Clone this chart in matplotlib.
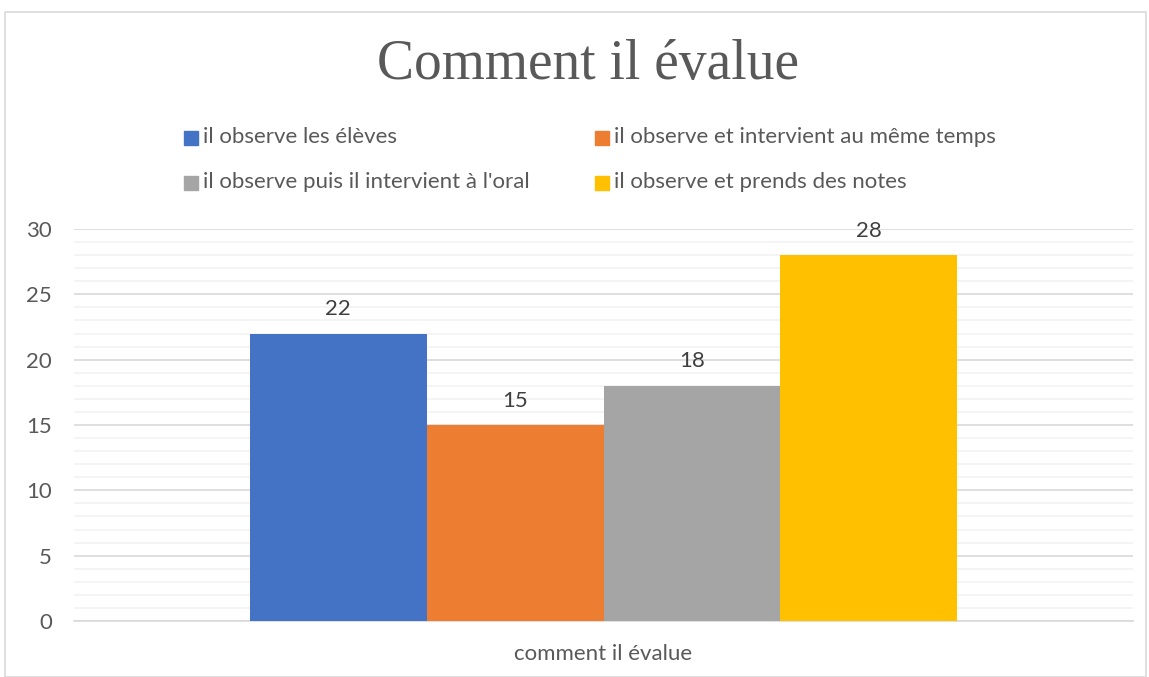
import matplotlib.pyplot as plt
from matplotlib.patches import Rectangle
from matplotlib.ticker import MultipleLocator

# data
categorie = "comment il évalue"
series = ["il observe les élèves",
          "il observe et intervient au même temps",
          "il observe puis il intervient à l'oral",
          "il observe et prends des notes"]
valeurs = [22, 15, 18, 28]
couleurs = ["#4472C4", "#ED7D31", "#A5A5A5", "#FFC000"]

W, H = 1149, 677
fig = plt.figure(figsize=(W / 100, H / 100), dpi=100)
txt = "#595959"
plt.rcParams['font.family'] = ['Lato', 'DejaVu Sans']

# chart border
fig.patches.append(Rectangle((5 / W, 0), 1141 / W, 1 - 12 / H, transform=fig.transFigure,
                             fill=False, edgecolor="#D9D9D9", linewidth=1.2))

# plot area
x0, x1, ytop, ybot = 74, 1133, 229, 621
ax = fig.add_axes([x0 / W, 1 - ybot / H, (x1 - x0) / W, (ybot - ytop) / H])

largeur = 0.167
n = len(valeurs)
for i, (v, c) in enumerate(zip(valeurs, couleurs)):
    xc = (i - (n - 1) / 2) * largeur
    ax.bar(xc, v, width=largeur, color=c, zorder=3)
    ax.text(xc, v + 1.87, str(v), ha="center", va="center", fontsize=16, color="#404040")

ax.set_xlim(-0.5, 0.5)
ax.set_ylim(0, 30)
ax.yaxis.set_major_locator(MultipleLocator(5))
ax.yaxis.set_minor_locator(MultipleLocator(1))
ax.grid(axis="y", which="major", color="#D9D9D9", linewidth=1.2, zorder=0)
ax.grid(axis="y", which="minor", color="#F2F2F2", linewidth=1.2, zorder=0)
for s in ["top", "right", "left"]:
    ax.spines[s].set_visible(False)
ax.spines["bottom"].set_color("#D9D9D9")
ax.spines["bottom"].set_linewidth(1.2)
ax.tick_params(axis="y", which="both", length=0, labelsize=16, labelcolor=txt, pad=16)
ax.set_xticks([0])
ax.set_xticklabels([categorie], fontsize=16, color=txt)
ax.tick_params(axis="x", length=0, pad=16.5)

fig.text(588 / W, 1 - 65 / H, "Comment il évalue", ha="center", va="center",
         fontsize=40, color=txt, family=["Liberation Serif"])

# legend, two rows of two entries
pos_legende = [(184, 138), (595, 138), (184, 183), (595, 183)]
for (lx, ly), lab, c in zip(pos_legende, series, couleurs):
    fig.patches.append(Rectangle((lx / W, 1 - (ly + 7) / H), 14 / W, 14 / H,
                                 transform=fig.transFigure, color=c))
    fig.text((lx + 19) / W, 1 - (ly - 1) / H, lab, ha="left", va="center",
             fontsize=16, color=txt)

fig.savefig("out.png", dpi=100)
